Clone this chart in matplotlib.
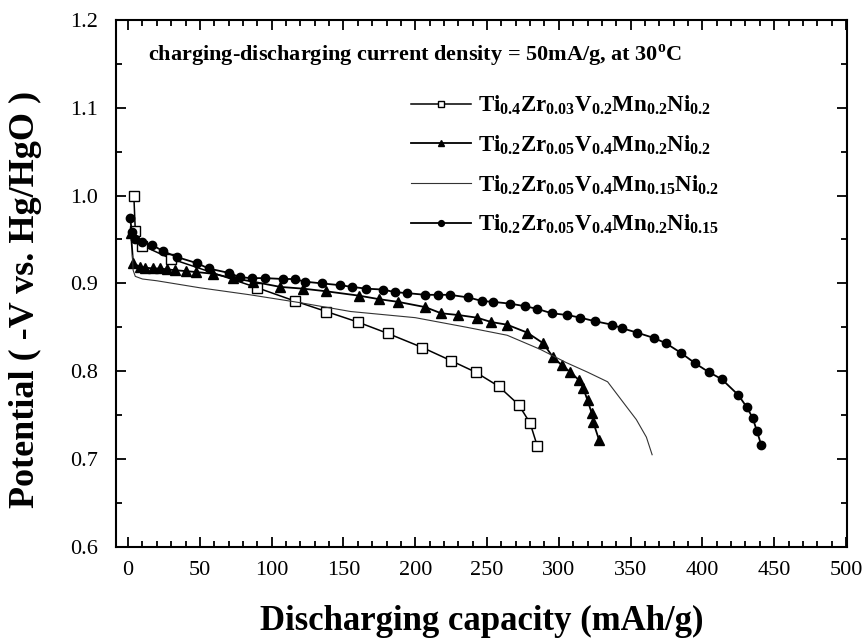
import matplotlib.pyplot as plt
from matplotlib.ticker import MultipleLocator

plt.rcParams['font.family'] = 'Liberation Serif'
plt.rcParams['mathtext.fontset'] = 'custom'
plt.rcParams['mathtext.rm'] = 'Liberation Serif'
plt.rcParams['mathtext.bf'] = 'Liberation Serif:bold'

# Ti0.4Zr0.03V0.2Mn0.2Ni0.2 (open squares)
sq_x = [4, 5, 10, 30, 90, 116, 138, 160, 181, 205, 225, 242, 258, 272, 280, 285]
sq_y = [1.0, 0.96, 0.943, 0.928, 0.895, 0.880, 0.868, 0.856, 0.843, 0.827,
        0.812, 0.799, 0.783, 0.762, 0.741, 0.715]

# Ti0.2Zr0.05V0.4Mn0.2Ni0.2 (filled triangles)
tri_x = [2, 3.5, 8, 12, 17, 22, 27, 33, 40, 47, 59, 73, 87, 106, 122, 138, 161,
         175, 188, 207, 218, 230, 243, 253, 264, 278, 289, 296, 302, 308, 314,
         317, 320, 323, 324, 328]
tri_y = [0.957, 0.923, 0.919, 0.918, 0.917, 0.917, 0.916, 0.915, 0.914, 0.913,
         0.911, 0.906, 0.902, 0.896, 0.894, 0.891, 0.886, 0.882, 0.879, 0.873,
         0.866, 0.864, 0.861, 0.856, 0.853, 0.844, 0.832, 0.816, 0.807, 0.799,
         0.790, 0.781, 0.767, 0.752, 0.742, 0.722]

# Ti0.2Zr0.05V0.4Mn0.15Ni0.2 (thin line)
ln_x = [3, 3.5, 5, 10, 20, 50, 85, 120, 155, 200, 236, 264, 287, 305, 320,
        334, 347, 354, 361, 365]
ln_y = [0.932, 0.915, 0.908, 0.905, 0.903, 0.895, 0.887, 0.878, 0.868, 0.861,
        0.850, 0.841, 0.825, 0.810, 0.799, 0.788, 0.760, 0.745, 0.725, 0.705]

# Ti0.2Zr0.05V0.4Mn0.2Ni0.15 (filled circles)
ci_x = [1.5, 2.5, 5, 10, 16.5, 24, 34, 48, 56, 70, 78, 86, 95.5, 108, 116, 123,
        135, 147.5, 156, 166, 177.5, 186, 194, 207, 216, 224, 237, 246.5, 254,
        266, 276.5, 285, 295, 306, 315, 325, 337, 344, 354.5, 366, 374.5, 385,
        395, 404.5, 413.5, 425, 431, 435, 438, 441]
ci_y = [0.974, 0.959, 0.950, 0.947, 0.944, 0.937, 0.930, 0.923, 0.917, 0.912,
        0.907, 0.906, 0.906, 0.905, 0.905, 0.902, 0.900, 0.898, 0.896, 0.894,
        0.893, 0.890, 0.889, 0.887, 0.887, 0.887, 0.884, 0.880, 0.879, 0.877,
        0.874, 0.871, 0.866, 0.864, 0.861, 0.857, 0.853, 0.849, 0.844, 0.838,
        0.832, 0.821, 0.809, 0.799, 0.791, 0.773, 0.759, 0.747, 0.732, 0.716]

labels = [r'$\mathbf{Ti_{0.4}Zr_{0.03}V_{0.2}Mn_{0.2}Ni_{0.2}}$',
          r'$\mathbf{Ti_{0.2}Zr_{0.05}V_{0.4}Mn_{0.2}Ni_{0.2}}$',
          r'$\mathbf{Ti_{0.2}Zr_{0.05}V_{0.4}Mn_{0.15}Ni_{0.2}}$',
          r'$\mathbf{Ti_{0.2}Zr_{0.05}V_{0.4}Mn_{0.2}Ni_{0.15}}$']

fig = plt.figure(figsize=(8.66, 6.39), dpi=100)
ax = fig.add_axes([0.134, 0.144, 0.844, 0.825])

ax.plot(sq_x, sq_y, c='black', lw=1.1, marker='s', ms=6.5, mfc='white',
        mec='black', mew=1.0, label=labels[0])
ax.plot(tri_x, tri_y, c='black', lw=1.3, marker='^', ms=7, label=labels[1])
ax.plot(ln_x, ln_y, c='#333333', lw=0.8, label=labels[2])
ax.plot(ci_x, ci_y, c='black', lw=1.3, marker='o', ms=6, label=labels[3])

ax.set_xlim(-8.4, 500.7)
ax.set_ylim(0.6, 1.2)
ax.xaxis.set_major_locator(MultipleLocator(50))
ax.xaxis.set_minor_locator(MultipleLocator(10))
ax.yaxis.set_major_locator(MultipleLocator(0.1))
ax.yaxis.set_minor_locator(MultipleLocator(0.05))
ax.tick_params(which='both', direction='in', top=True, right=True, width=1.3)
ax.tick_params(which='major', length=7, labelsize=16)
ax.tick_params(axis='y', which='major', pad=13)
ax.tick_params(axis='x', which='major', pad=10)
ax.tick_params(which='minor', length=4)
for s in ax.spines.values():
    s.set_linewidth(1.5)

ax.text(0.044, 0.932, 'charging-discharging current density = 50mA/g, at 30$^\\mathbf{o}$C',
        transform=ax.transAxes, fontsize=16, fontweight='bold', va='center')

ax.legend(loc='upper left', bbox_to_anchor=(0.404, 0.86), frameon=False,
          fontsize=16.5, handlelength=2.6, handletextpad=0.3, labelspacing=0.72,
          markerscale=0.7, borderaxespad=0, borderpad=0)

ax.set_xlabel('Discharging capacity (mAh/g)', fontsize=25, fontweight='bold')
ax.set_ylabel('Potential ( -V vs. Hg/HgO )', fontsize=26, fontweight='bold')
ax.xaxis.set_label_coords(0.5, -0.11)
ax.yaxis.set_label_coords(-0.101, 0.47)

plt.savefig('out.png', dpi=100)
